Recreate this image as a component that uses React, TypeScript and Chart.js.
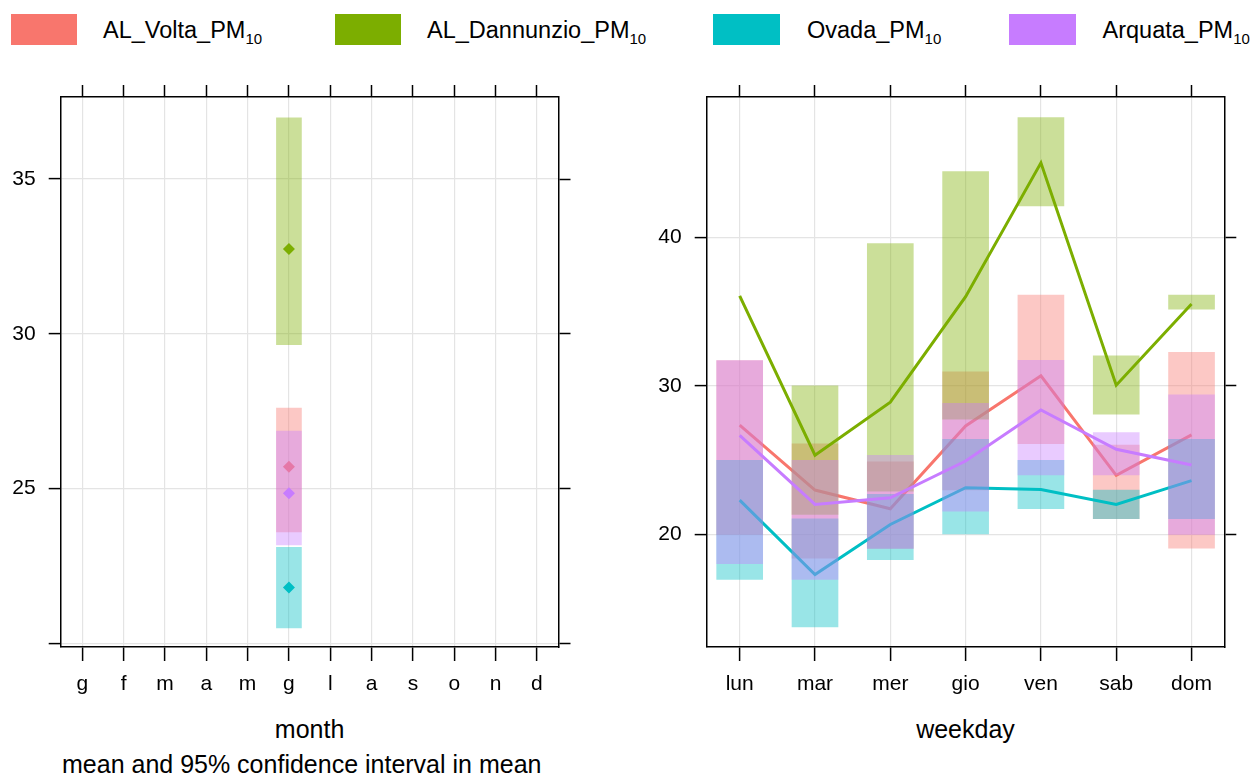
import React, { useEffect, useRef } from 'react';
import { Chart, registerables } from 'chart.js';

Chart.register(...registerables);

const FONT = '"Liberation Sans", Arial, "DejaVu Sans", sans-serif';

// ---- series ----
const seriesNames = ['AL_Volta_PM', 'AL_Dannunzio_PM', 'Ovada_PM', 'Arquata_PM'];
const seriesSub = '10';
const seriesColors = ['#F8766D', '#7CAE00', '#00BFC4', '#C77CFF'];

// ---- month panel ----
const monthLabels = ['g', 'f', 'm', 'a', 'm', 'g', 'l', 'a', 's', 'o', 'n', 'd'];
const monthTicks = [20, 25, 30, 35];
const monthTickLabels = ['', '25', '30', '35'];
const N = null;
const monthVoltaMean = [N, N, N, N, N, 25.7, N, N, N, N, N, N];
const monthVoltaLow = [N, N, N, N, N, 23.6, N, N, N, N, N, N];
const monthVoltaHigh = [N, N, N, N, N, 27.6, N, N, N, N, N, N];
const monthDannMean = [N, N, N, N, N, 32.74, N, N, N, N, N, N];
const monthDannLow = [N, N, N, N, N, 29.65, N, N, N, N, N, N];
const monthDannHigh = [N, N, N, N, N, 36.98, N, N, N, N, N, N];
const monthOvadaMean = [N, N, N, N, N, 21.8, N, N, N, N, N, N];
const monthOvadaLow = [N, N, N, N, N, 20.5, N, N, N, N, N, N];
const monthOvadaHigh = [N, N, N, N, N, 23.1, N, N, N, N, N, N];
const monthArqMean = [N, N, N, N, N, 24.85, N, N, N, N, N, N];
const monthArqLow = [N, N, N, N, N, 23.18, N, N, N, N, N, N];
const monthArqHigh = [N, N, N, N, N, 26.86, N, N, N, N, N, N];

// ---- weekday panel ----
const weekdayLabels = ['lun', 'mar', 'mer', 'gio', 'ven', 'sab', 'dom'];
const weekdayTicks = [20, 30, 40];
const weekdayTickLabels = ['20', '30', '40'];
const wdVoltaMean = [27.35, 22.99, 21.73, 27.3, 30.67, 23.98, 26.7];
const wdVoltaLow = [20.0, 18.4, 19.06, 22.99, 26.11, 21.06, 19.08];
const wdVoltaHigh = [31.69, 26.09, 24.88, 30.94, 36.11, 26.02, 32.25];
const wdDannMean = [36.05, 25.33, 28.9, 36.0, 45.0, 30.04, 35.5];
const wdDannLow = [N, 21.35, 22.92, 27.75, 42.1, 28.09, 35.15];
const wdDannHigh = [N, 30.0, 39.57, 44.41, 48.04, 32.02, 36.11];
const wdOvadaMean = [22.31, 17.3, 20.67, 23.15, 23.03, 22.02, 23.62];
const wdOvadaLow = [16.97, 13.78, 18.31, 20.04, 21.73, 21.06, 21.06];
const wdOvadaHigh = [24.99, 21.06, 22.7, 26.4, 24.99, 22.99, 26.4];
const wdArqMean = [26.67, 22.02, 22.47, 24.94, 28.38, 25.73, 24.67];
const wdArqLow = [18.04, 16.97, 19.06, 21.57, 24.0, 24.0, 20.0];
const wdArqHigh = [31.69, 24.99, 25.33, 28.83, 31.71, 26.85, 29.39];

function rgba(hex: string, a: number) {
  const r = parseInt(hex.slice(1, 3), 16);
  const g = parseInt(hex.slice(3, 5), 16);
  const b = parseInt(hex.slice(5, 7), 16);
  return `rgba(${r},${g},${b},${a})`;
}

type Arr = (number | null)[];

interface PanelProps {
  left: number;
  top: number;
  width: number;
  height: number;
  labels: string[];
  means: Arr[];
  lows: Arr[];
  highs: Arr[];
  xMin: number;
  xMax: number;
  yMin: number;
  yMax: number;
  yTicks: number[];
  yTickLabels: string[];
  axisLeft: number;
  axisRight: number;
  axisTop: number;
  axisBottom: number;
  barThickness: number;
  pointRadius: number;
  lineWidth: number;
}

function Panel(p: PanelProps) {
  const ref = useRef<HTMLCanvasElement>(null);
  useEffect(() => {
    const datasets: any[] = [];
    for (let s = 0; s < 4; s++) {
      const bars: any[] = [];
      p.lows[s].forEach((lo, i) => {
        const hi = p.highs[s][i];
        if (lo != null && hi != null) bars.push({ x: i, y: [lo, hi] });
      });
      datasets.push({
        type: 'bar',
        data: bars,
        backgroundColor: rgba(seriesColors[s], 0.4),
        borderWidth: 0,
        borderSkipped: false,
        barThickness: p.barThickness,
        grouped: false,
        order: 8 - 2 * s,
      });
      datasets.push({
        type: 'line',
        data: p.means[s].map((v, i) => ({ x: i, y: v })),
        borderColor: seriesColors[s],
        backgroundColor: seriesColors[s],
        borderWidth: p.lineWidth,
        pointRadius: p.pointRadius,
        pointStyle: 'rectRot',
        pointBorderWidth: 0,
        pointBackgroundColor: seriesColors[s],
        pointHoverRadius: p.pointRadius,
        tension: 0,
        spanGaps: false,
        fill: false,
        order: 7 - 2 * s,
      });
    }
    const xTicksFn = (scale: any) => {
      scale.ticks = p.labels.map((_, i) => ({ value: i }));
    };
    const yTicksFn = (scale: any) => {
      scale.ticks = p.yTicks.map((v) => ({ value: v }));
    };
    const tickFont = { family: FONT, size: 21 };
    const border = { display: true, color: '#000', width: 1.5 };
    const chart = new Chart(ref.current as HTMLCanvasElement, {
      type: 'bar',
      data: { datasets },
      options: {
        animation: false,
        responsive: false,
        devicePixelRatio: 1,
        layout: { padding: 0 },
        plugins: { legend: { display: false }, tooltip: { enabled: false } },
        events: [],
        scales: {
          x: {
            type: 'linear',
            position: 'bottom',
            min: p.xMin,
            max: p.xMax,
            offset: false,
            afterBuildTicks: xTicksFn,
            ticks: {
              callback: (v: any) => p.labels[Math.round(Number(v))] ?? '',
              font: tickFont,
              color: '#000',
              padding: 11,
              autoSkip: false,
              maxRotation: 0,
              minRotation: 0,
            },
            grid: { offset: false, color: '#E4E4E4', lineWidth: 1.2, tickColor: '#000', tickLength: 14, tickWidth: 1.5 },
            border,
            afterFit: (s: any) => { s.height = p.axisBottom; },
          },
          x2: {
            type: 'linear',
            position: 'top',
            min: p.xMin,
            max: p.xMax,
            offset: false,
            afterBuildTicks: xTicksFn,
            ticks: { display: false },
            grid: { offset: false, drawOnChartArea: false, color: '#000', tickColor: '#000', tickLength: 12, tickWidth: 1.5 },
            border,
            afterFit: (s: any) => { s.height = p.axisTop; },
          },
          y: {
            type: 'linear',
            position: 'left',
            min: p.yMin,
            max: p.yMax,
            afterBuildTicks: yTicksFn,
            ticks: {
              callback: (v: any) => {
                const i = p.yTicks.indexOf(Number(v));
                return i >= 0 ? p.yTickLabels[i] : '';
              },
              font: tickFont,
              color: '#000',
              padding: 13,
            },
            grid: { color: '#E4E4E4', lineWidth: 1.2, tickColor: '#000', tickLength: 12, tickWidth: 1.5 },
            border,
            afterFit: (s: any) => { s.width = p.axisLeft; },
          },
          y2: {
            type: 'linear',
            position: 'right',
            min: p.yMin,
            max: p.yMax,
            afterBuildTicks: yTicksFn,
            ticks: { display: false },
            grid: { drawOnChartArea: false, color: '#000', tickColor: '#000', tickLength: 12, tickWidth: 1.5 },
            border,
            afterFit: (s: any) => { s.width = p.axisRight; },
          },
        },
      } as any,
    });
    return () => chart.destroy();
  }, []);
  return (
    <canvas
      ref={ref}
      width={p.width}
      height={p.height}
      style={{ position: 'absolute', left: p.left, top: p.top, width: p.width, height: p.height }}
    />
  );
}

const legendRectLeft = [10.5, 334.5, 713, 1009];
const legendTextLeft = [103, 427, 807, 1102.5];

export default function App() {
  const textStyle: React.CSSProperties = {
    position: 'absolute',
    fontFamily: FONT,
    fontSize: 25,
    lineHeight: '25px',
    color: '#000',
    whiteSpace: 'nowrap',
  };
  return (
    <div style={{ position: 'absolute', left: 0, top: 0, width: 1252, height: 776, background: '#fff', overflow: 'hidden' }}>
      {seriesNames.map((name, s) => (
        <React.Fragment key={name}>
          <div
            style={{
              position: 'absolute',
              left: legendRectLeft[s],
              top: 14,
              width: 66.5,
              height: 31,
              background: seriesColors[s],
            }}
          />
          <div style={{ ...textStyle, fontSize: 23.5, left: legendTextLeft[s], top: 18 }}>
            {name}
            <span style={{ fontSize: 15, position: 'relative', top: 6 }}>{seriesSub}</span>
          </div>
        </React.Fragment>
      ))}
      <Panel
        left={0}
        top={70}
        width={600}
        height={640}
        labels={monthLabels}
        means={[monthVoltaMean, monthDannMean, monthOvadaMean, monthArqMean]}
        lows={[monthVoltaLow, monthDannLow, monthOvadaLow, monthArqLow]}
        highs={[monthVoltaHigh, monthDannHigh, monthOvadaHigh, monthArqHigh]}
        xMin={-0.5226}
        xMax={11.5226}
        yMin={19.88}
        yMax={37.65}
        yTicks={monthTicks}
        yTickLabels={monthTickLabels}
        axisLeft={60.7}
        axisRight={41.5}
        axisTop={27}
        axisBottom={63}
        barThickness={25}
        pointRadius={6}
        lineWidth={3}
      />
      <Panel
        left={640}
        top={70}
        width={612}
        height={640}
        labels={weekdayLabels}
        means={[wdVoltaMean, wdDannMean, wdOvadaMean, wdArqMean]}
        lows={[wdVoltaLow, wdDannLow, wdOvadaLow, wdArqLow]}
        highs={[wdVoltaHigh, wdDannHigh, wdOvadaHigh, wdArqHigh]}
        xMin={-0.438}
        xMax={6.435}
        yMin={12.43}
        yMax={49.43}
        yTicks={weekdayTicks}
        yTickLabels={weekdayTickLabels}
        axisLeft={66.7}
        axisRight={27.7}
        axisTop={27}
        axisBottom={63}
        barThickness={46}
        pointRadius={0}
        lineWidth={3}
      />
      <div style={{ ...textStyle, left: 309.6, top: 717, transform: 'translateX(-50%)' }}>month</div>
      <div style={{ ...textStyle, left: 965.5, top: 717, transform: 'translateX(-50%)' }}>weekday</div>
      <div style={{ ...textStyle, left: 62, top: 752 }}>mean and 95% confidence interval in mean</div>
    </div>
  );
}
